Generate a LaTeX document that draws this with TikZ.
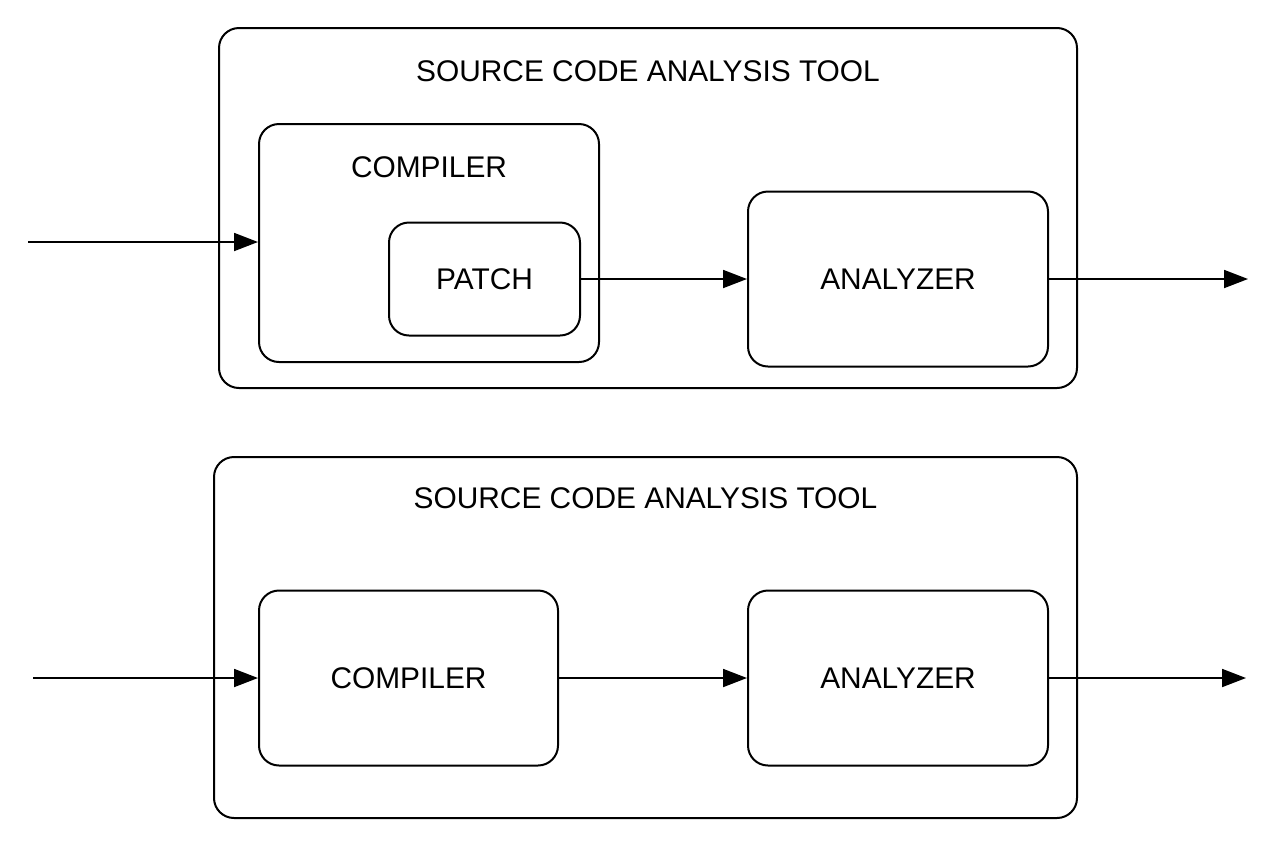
\documentclass[tikz,border=0pt]{standalone}
\usepackage{fontspec}
\setmainfont{Liberation Sans}
\usetikzlibrary{arrows.meta,positioning}
\tikzset{
  box/.style={draw, line width=1.5pt, rounded corners=15pt, inner sep=0pt},
  lbl/.style={inner sep=0pt},
  conn/.style={-{Triangle[length=18pt,width=13.5pt]}, line width=1.4pt}
}
\begin{document}
\begin{tikzpicture}[x=0.75pt,y=-0.75pt, font=\fontsize{22.4}{26}\selectfont, line join=round]
	% --- Khung hình ---
	\useasboundingbox (0,0) rectangle (1287,847);
	% --- Sơ đồ trên ---
	\node[box, minimum width=643.5pt, minimum height=270pt] (tool1) at (648,208) {};
	\node[lbl] (title1) at (648,71) {SOURCE CODE ANALYSIS TOOL};
	\node[box, minimum width=255pt, minimum height=178.5pt] (comp1) at (429,243) {};
	\node[lbl] (clbl1) at (429,167) {COMPILER};
	\node[box, minimum width=143.25pt, minimum height=84.75pt] (patch) at (484.5,279) {PATCH};
	\node[box, minimum width=225pt, minimum height=131.25pt] (ana1) at (898,279) {ANALYZER};
	\coordinate (in1) at (28,242);
	\coordinate (out1) at (1248,279);
	\draw[conn] (in1) -- (in1 -| comp1.west);
	\draw[conn] (patch.east) -- (ana1.west);
	\draw[conn] (ana1.east) -- (out1);
	% --- Sơ đồ dưới ---
	\node[box, minimum width=647.25pt, minimum height=270.75pt] (tool2) at (645.5,637.5) {};
	\node[lbl] (title2) at (645.5,498) {SOURCE CODE ANALYSIS TOOL};
	\node[box, minimum width=224.25pt, minimum height=131.25pt] (comp2) at (408.5,678) {COMPILER};
	\node[box, minimum width=225pt, minimum height=131.25pt] (ana2) at (898,678) {ANALYZER};
	\coordinate (in2) at (33,678);
	\coordinate (out2) at (1246,678);
	\draw[conn] (in2) -- (comp2.west);
	\draw[conn] (comp2.east) -- (ana2.west);
	\draw[conn] (ana2.east) -- (out2);
\end{tikzpicture}
\end{document}
